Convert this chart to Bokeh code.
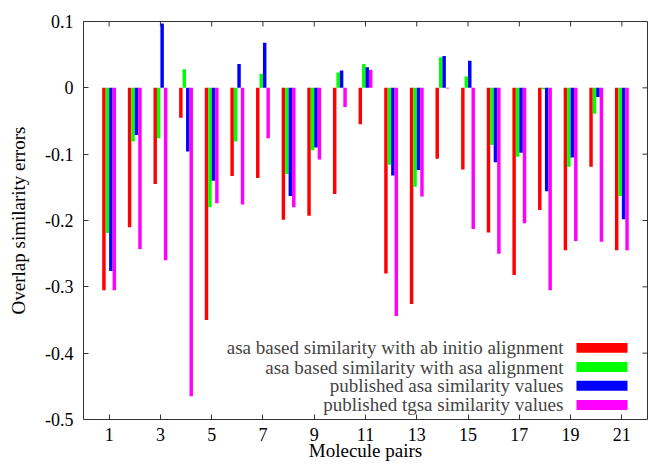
from bokeh.plotting import figure
from bokeh.models import Range1d, FixedTicker, Label, BoxAnnotation
from bokeh.embed import file_html
from bokeh.resources import INLINE

pairs = list(range(1, 22))
ab_initio = [-0.305, -0.210, -0.145, -0.045, -0.350, -0.133, -0.136, -0.199, -0.193, -0.160, -0.055,
             -0.280, -0.326, -0.107, -0.123, -0.218, -0.282, -0.184, -0.245, -0.119, -0.245]
asa_align = [-0.219, -0.081, -0.076, 0.028, -0.180, -0.081, 0.021, -0.130, -0.094, 0.023, 0.036,
             -0.116, -0.149, 0.046, 0.017, -0.086, -0.104, -0.002, -0.119, -0.039, -0.163]
pub_asa = [-0.276, -0.071, 0.097, -0.096, -0.140, 0.036, 0.068, -0.163, -0.090, 0.026, 0.031,
           -0.132, -0.124, 0.048, 0.041, -0.112, -0.098, -0.156, -0.105, -0.014, -0.198]
pub_tgsa = [-0.305, -0.243, -0.260, -0.465, -0.174, -0.176, -0.076, -0.180, -0.108, -0.029, 0.027,
            -0.344, -0.164, -0.001, -0.213, -0.250, -0.204, -0.305, -0.231, -0.232, -0.245]

series_names = ["asa based similarity with ab initio alignment",
                "asa based similarity with asa alignment",
                "published asa similarity values",
                "published tgsa similarity values"]
series_values = [ab_initio, asa_align, pub_asa, pub_tgsa]
colors = ["#ff0000", "#00ff00", "#0000ff", "#ff00ff"]

x_ticks = [1, 3, 5, 7, 9, 11, 13, 15, 17, 19, 21]
y_ticks = [0.1, 0.0, -0.1, -0.2, -0.3, -0.4, -0.5]
y_tick_labels = ["0.1", "0", "-0.1", "-0.2", "-0.3", "-0.4", "-0.5"]

FONT = "Liberation Serif"
FS = "18px"
FS2 = "19px"
X0, X1, Y0, Y1 = 0, 22, -0.5, 0.1

p = figure(width=648, height=465, output_backend="svg", toolbar_location=None,
           x_range=Range1d(X0, X1), y_range=Range1d(Y0, Y1),
           min_border_left=83, min_border_right=1, min_border_top=21, min_border_bottom=46)
p.grid.visible = False
p.outline_line_color = "#333333"
p.outline_line_width = 1

bw = 0.135
offsets = [-1.5 * bw, -0.5 * bw, 0.5 * bw, 1.5 * bw]
for vals, col, off in zip(series_values, colors, offsets):
    xs = [x + off for x in pairs]
    p.vbar(x=xs, top=vals, bottom=0, width=bw, fill_color=col, line_color=None)

# main axes
xa = p.xaxis[0]
xa.ticker = FixedTicker(ticks=x_ticks)
ya = p.yaxis[0]
ya.ticker = FixedTicker(ticks=y_ticks)
ya.major_label_overrides = {t: l for t, l in zip(y_ticks, y_tick_labels)}
for ax in (xa, ya):
    ax.axis_line_color = None
    ax.major_tick_in = 5
    ax.major_tick_out = 0
    ax.minor_tick_line_color = None
    ax.major_tick_line_color = "#333333"
    ax.major_label_text_font = FONT
    ax.major_label_text_font_size = FS
    ax.major_label_text_color = "black"
    ax.axis_label_text_font = FONT
    ax.axis_label_text_font_size = FS2
    ax.axis_label_text_font_style = "normal"
    ax.axis_label_text_color = "black"
xa.major_label_standoff = 8
xa.axis_label = "Molecule pairs"
xa.axis_label_standoff = -4
ya.major_label_standoff = 10
ya.axis_label = "Overlap similarity errors"
ya.axis_label_standoff = 13

# mirrored ticks on top and right frame edges
tx = 5 / 25.64
ty = 5 / 663.3
p.segment(x0=x_ticks, y0=[Y1] * len(x_ticks), x1=x_ticks, y1=[Y1 - ty] * len(x_ticks),
          line_color="#333333", line_width=1)
p.segment(x0=[X1] * len(y_ticks), y0=y_ticks, x1=[X1 - tx] * len(y_ticks), y1=y_ticks,
          line_color="#333333", line_width=1)

# custom legend: text right-aligned, swatch to its right
leg_y = [-0.392, -0.421, -0.449, -0.478]
for name, col, yy in zip(series_names, colors, leg_y):
    p.add_layout(Label(x=18.72, y=yy, text=name, text_align="right", text_baseline="middle",
                       text_font=FONT, text_font_size=FS2))
    p.add_layout(BoxAnnotation(left=19.23, right=21.22, bottom=yy - 0.0075, top=yy + 0.0075,
                               fill_color=col, fill_alpha=1, line_color=None))

open("out.html", "w").write(file_html(p, INLINE))
